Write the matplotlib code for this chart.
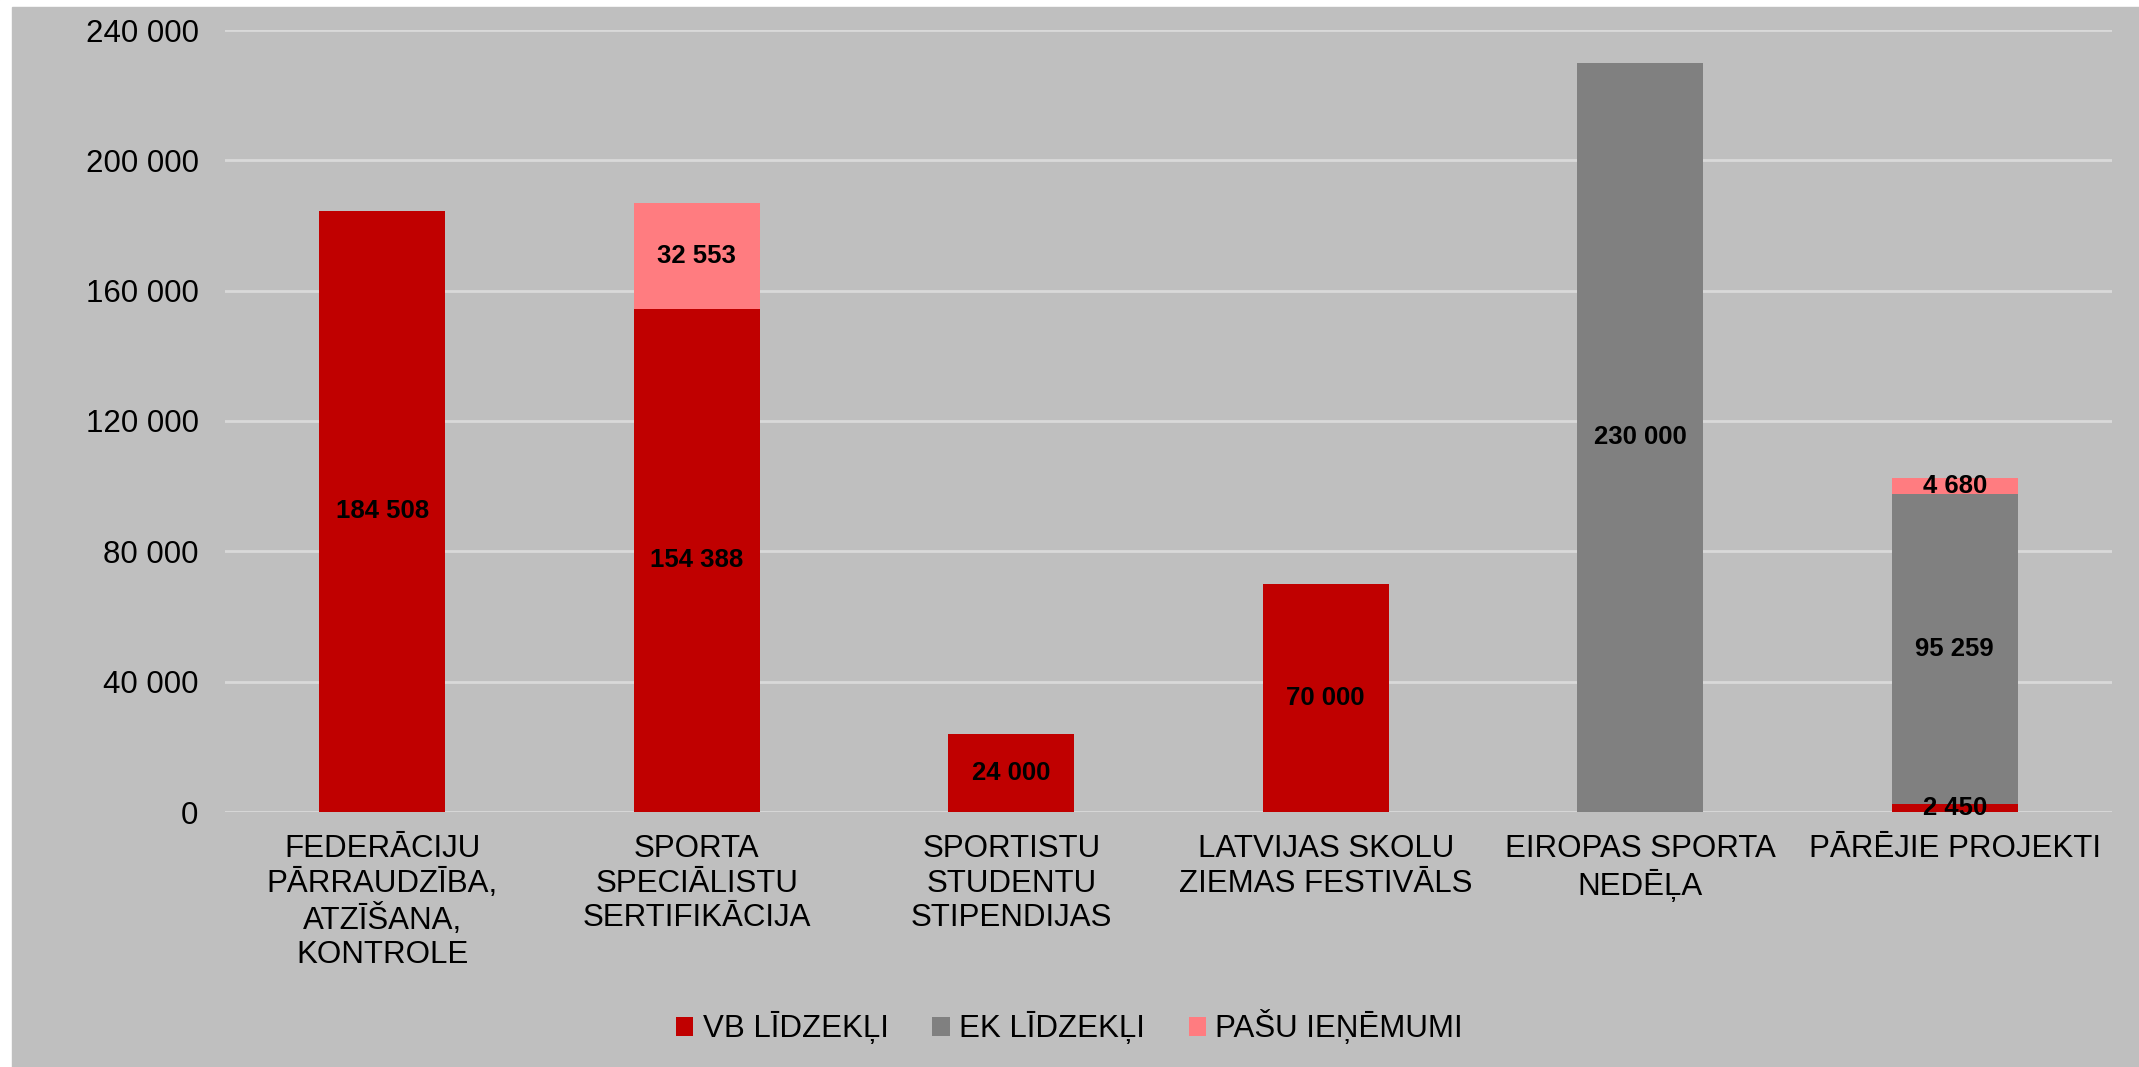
import numpy as np
import matplotlib
matplotlib.use("Agg")
import matplotlib.pyplot as plt
from matplotlib.patches import Rectangle

plt.rcParams['font.family'] = ['Liberation Sans', 'DejaVu Sans']

categories = [
    "FEDERĀCIJU\nPĀRRAUDZĪBA,\nATZĪŠANA,\nKONTROLE",
    "SPORTA\nSPECIĀLISTU\nSERTIFIKĀCIJA",
    "SPORTISTU\nSTUDENTU\nSTIPENDIJAS",
    "LATVIJAS SKOLU\nZIEMAS FESTIVĀLS",
    "EIROPAS SPORTA\nNEDĒĻA",
    "PĀRĒJIE PROJEKTI",
]
vb = [184508, 154388, 24000, 70000, 0, 2450]
ek = [0, 0, 0, 0, 230000, 95259]
pasu = [0, 32553, 0, 0, 0, 4680]
series_names = ["VB LĪDZEKĻI", "EK LĪDZEKĻI", "PAŠU IEŅĒMUMI"]
colors = ["#C00000", "#808080", "#FF7C80"]
yticks = [0, 40000, 80000, 120000, 160000, 200000, 240000]

W, H = 2139, 1067
fig = plt.figure(figsize=(W / 100, H / 100), dpi=100)
fig.patch.set_facecolor("#CCCCCC")

# decorative strips at top and left edge
for x0, x1 in [(0, 389), (778, 857), (1089, 1350), (1842, 2074)]:
    fig.patches.append(Rectangle((x0 / W, 0), (x1 - x0) / W, 1, transform=fig.transFigure,
                                 color="white", zorder=-3))
for y0, y1 in [(0, 391), (602, 636), (884, 966)]:
    fig.patches.append(Rectangle((0, 1 - y1 / H), 1, (y1 - y0) / H, transform=fig.transFigure,
                                 color="white", zorder=-3))
fig.patches.append(Rectangle((12 / W, 0), 1, 1 - 7 / H, transform=fig.transFigure,
                             color="#BFBFBF", zorder=-2))

ax = fig.add_axes([225 / W, 1 - 812 / H, (2112 - 225) / W, (812 - 30) / H])
ax.set_facecolor("none")

x = np.arange(len(categories)) + 0.5
bottom = np.zeros(len(categories))
for vals, name, c in zip([vb, ek, pasu], series_names, colors):
    vals = np.array(vals, dtype=float)
    ax.bar(x, vals, 0.4, bottom=bottom, color=c, label=name, zorder=2)
    for xi, b, v in zip(x, bottom, vals):
        if v > 0:
            ax.text(xi, b + v / 2, f"{v:,.0f}".replace(",", " "), ha="center", va="center",
                    fontsize=18.5, fontweight="bold", color="black", zorder=3)
    bottom += vals

ax.set_xlim(0, len(categories))
ax.set_ylim(0, 240000)
ax.set_yticks(yticks)
ax.set_yticklabels([f"{v:,.0f}".replace(",", " ") for v in yticks])
ax.set_xticks(x)
ax.set_xticklabels(categories, linespacing=1.2)
ax.tick_params(axis="both", length=0, labelsize=22.5, colors="black")
ax.tick_params(axis="y", pad=19)
ax.tick_params(axis="x", pad=16)
ax.grid(axis="y", color="#D9D9D9", linewidth=2, zorder=1)
ax.set_axisbelow(True)
for s in ax.spines.values():
    s.set_visible(False)

fig.legend(loc="center", bbox_to_anchor=(0.5, 1 - 1027 / H), ncol=3, frameon=False,
           fontsize=22.5, handlelength=0.55, handleheight=0.55, handletextpad=0.3,
           columnspacing=1.4)

fig.savefig("out.png", dpi=100, facecolor=fig.get_facecolor())
